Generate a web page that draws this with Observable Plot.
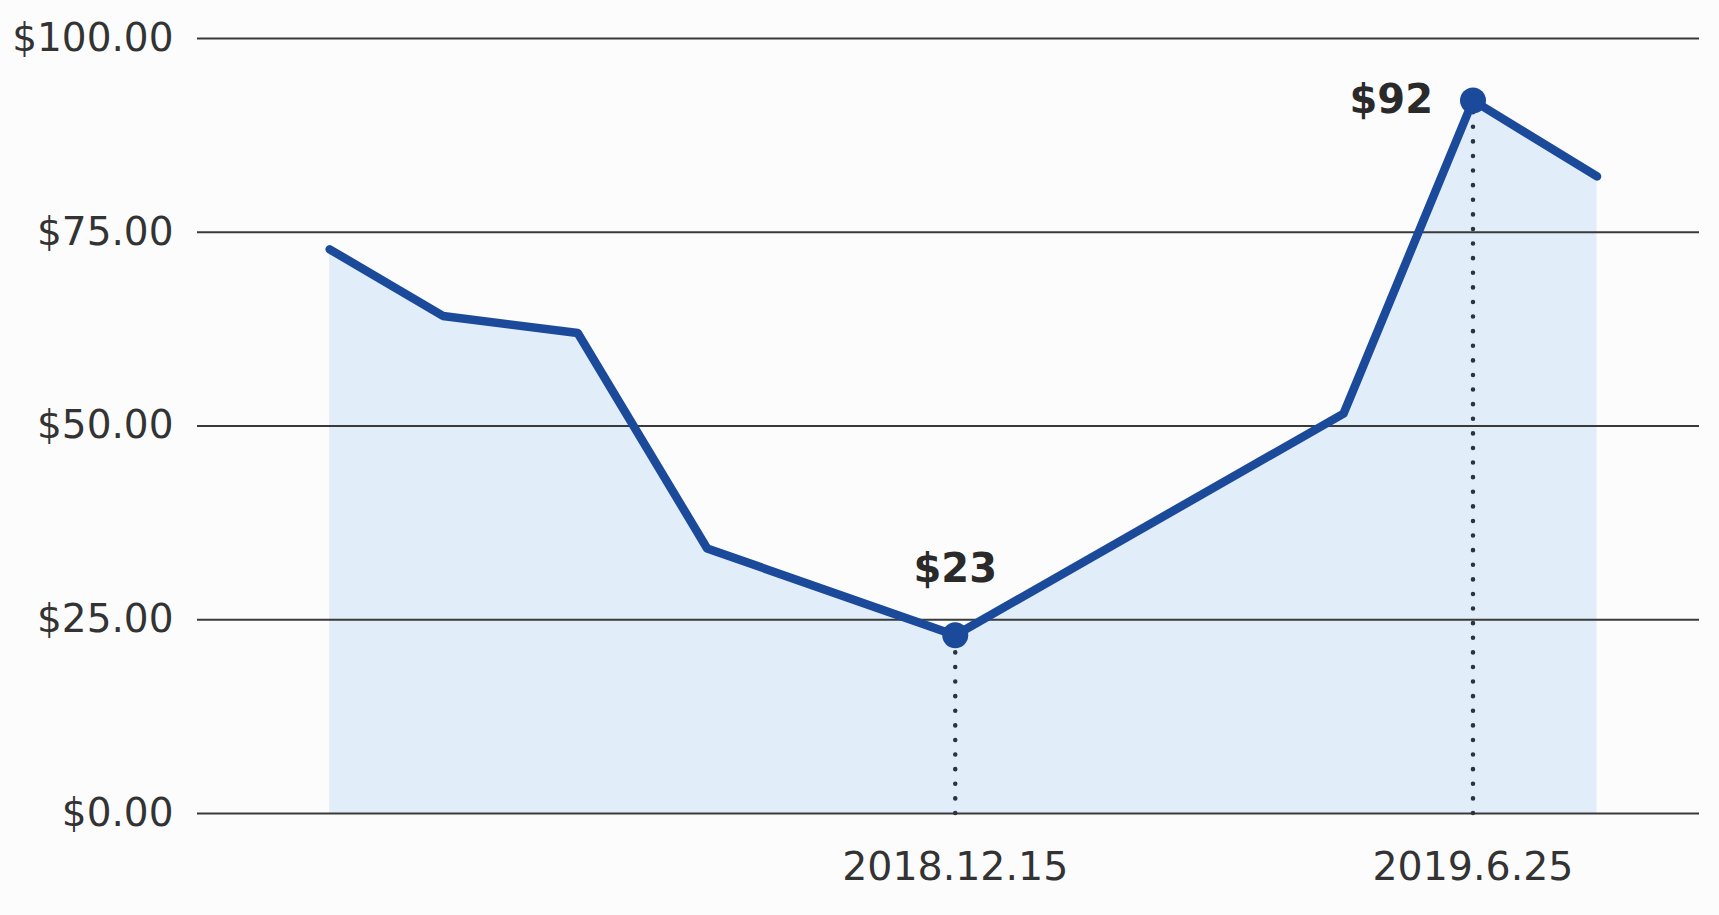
<!DOCTYPE html>
<html>
<head>
<meta charset="utf-8">
<script src="https://cdn.jsdelivr.net/npm/d3@7"></script>
<script src="https://cdn.jsdelivr.net/npm/@observablehq/plot@0.6"></script>
<style>
  html, body { margin: 0; padding: 0; background: #fcfcfc; }
  #chart svg { display: block; }
</style>
</head>
<body>
<div id="chart"></div>
<script>
const dates = ["2018-04-27", "2018-06-08", "2018-07-28", "2018-09-14", "2018-12-15", "2019-05-08", "2019-06-25", "2019-08-10"];
const prices = [72.8, 64.2, 62.0, 34.2, 23, 51.6, 92, 82.2];
const highlightDates = ["2018-12-15", "2019-06-25"];
const highlightValues = [23, 92];
const highlightLabels = ["$23", "$92"];
const yTicks = [0, 25, 50, 75, 100];
const xDomain = ["2018-03-09", "2019-09-17"];

const parse = d3.utcParse("%Y-%m-%d");
const data = dates.map((d, i) => ({date: parse(d), price: prices[i]}));
const hl = highlightDates.map((d, i) => ({date: parse(d), price: highlightValues[i], label: highlightLabels[i]}));
const fmtDate = d => `${d.getUTCFullYear()}.${d.getUTCMonth() + 1}.${d.getUTCDate()}`;

const chart = Plot.plot({
  width: 1719,
  height: 915,
  marginTop: 38,
  marginBottom: 102,
  marginLeft: 197,
  marginRight: 20,
  style: {fontFamily: "DejaVu Sans", fontSize: "38px", color: "#333", background: "#fcfcfc"},
  x: {type: "utc", domain: xDomain.map(parse), label: null},
  y: {domain: [0, 100], label: null},
  marks: [
    Plot.areaY(data, {x: "date", y: "price", fill: "#e2edfa"}),
    Plot.ruleY(yTicks, {stroke: "#3a3a3a", strokeWidth: 2}),
    Plot.ruleX(hl, {x: "date", y1: 0, y2: "price", stroke: "#2b3340", strokeWidth: 4.5, strokeDasharray: "0.1,14.5", strokeLinecap: "round"}),
    Plot.lineY(data, {x: "date", y: "price", stroke: "#1b4a9b", strokeWidth: 8.5, strokeLinejoin: "round", strokeLinecap: "round"}),
    Plot.dot(hl, {x: "date", y: "price", r: 13, fill: "#1b4a9b"}),
    Plot.text(hl.slice(0, 1), {x: "date", y: "price", text: "label", dy: -66, fontSize: 40, fontWeight: "bold", fill: "#2a2a2a"}),
    Plot.text(hl.slice(1), {x: "date", y: "price", text: "label", dx: -40, textAnchor: "end", fontSize: 40, fontWeight: "bold", fill: "#2a2a2a"}),
    Plot.axisY(yTicks, {tickSize: 0, tickPadding: 24, tickFormat: v => "$" + v.toFixed(2), fontSize: 39, fill: "#333", label: null}),
    Plot.axisX(highlightDates.map(parse), {tickSize: 0, tickPadding: 38, tickFormat: fmtDate, fontSize: 39.5, fill: "#333", label: null})
  ]
});
document.getElementById("chart").append(chart);
</script>
</body>
</html>
